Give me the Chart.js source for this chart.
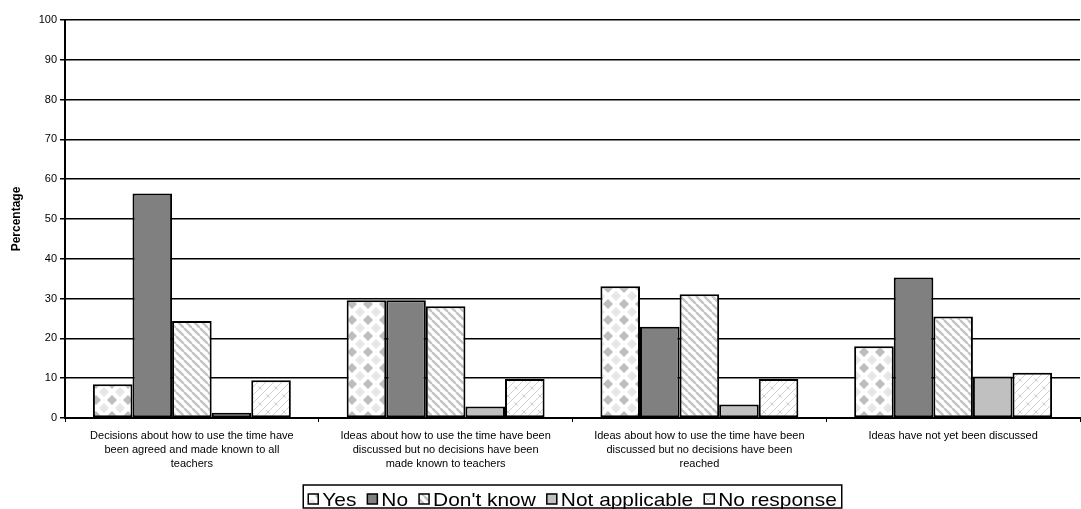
<!DOCTYPE html>
<html>
<head>
<meta charset="utf-8">
<script src="https://cdn.jsdelivr.net/npm/chart.js@4.4.1/dist/chart.umd.min.js"></script>
<style>
  html, body { margin: 0; padding: 0; background: #fff; }
  #wrap { width: 1081px; height: 509px; }
</style>
</head>
<body>
<div id="wrap"><canvas id="chart"></canvas></div>
<script>
const categories = [
  ['Decisions about how to use the time have', 'been agreed and made known to all', 'teachers'],
  ['Ideas about how to use the time have been', 'discussed but no decisions have been', 'made known to teachers'],
  ['Ideas about how to use the time have been', 'discussed but no decisions have been', 'reached'],
  ['Ideas have not yet been discussed']
];
const seriesNames = ['Yes', 'No', "Don't know", 'Not applicable', 'No response'];
const yesValues = [8.5, 29.6, 33.1, 18.0];
const noValues = [56.4, 29.6, 22.9, 35.3];
const dontKnowValues = [24.4, 28.1, 31.1, 25.5];
const notApplicableValues = [1.3, 2.9, 3.4, 10.4];
const noResponseValues = [9.5, 9.8, 9.8, 11.4];
const yTicks = [0, 10, 20, 30, 40, 50, 60, 70, 80, 90, 100];

const FONT = "'Liberation Sans', Arial, sans-serif";
const canvas = document.getElementById('chart');
const ctx = canvas.getContext('2d');

// small tiles for the hatched fills
function tile(size, draw) {
  const c = document.createElement('canvas');
  c.width = c.height = size;
  const g = c.getContext('2d');
  g.fillStyle = '#fff';
  g.fillRect(0, 0, size, size);
  draw(g, size);
  return ctx.createPattern(c, 'repeat');
}

function diamond(g, x, y, r) {
  g.beginPath();
  g.moveTo(x, y - r); g.lineTo(x + r, y); g.lineTo(x, y + r); g.lineTo(x - r, y);
  g.closePath(); g.fill();
}

const yesFill = tile(16, (g, s) => {
  g.fillStyle = '#e6e6e6';
  diamond(g, 8, 8, 5);
  g.fillStyle = '#bdbdbd';
  [[0, 0], [s, 0], [0, s], [s, s]].forEach(([x, y]) => diamond(g, x, y, 5));
});

const stripeFill = tile(8, (g, s) => {
  g.strokeStyle = '#c4c4c4';
  g.lineWidth = 2.4;
  [-s, 0, s].forEach(o => {
    g.beginPath(); g.moveTo(o, 0); g.lineTo(o + s, s); g.stroke();
  });
});

const brickFill = tile(16, (g, s) => {
  g.strokeStyle = '#cfcfcf';
  g.lineWidth = 1;
  [[0, 8, 8, 0], [0, 16, 16, 0], [8, 16, 16, 8]].forEach(([a, b, c, d]) => {
    g.beginPath(); g.moveTo(a, b); g.lineTo(c, d); g.stroke();
  });
  [[2, 2, 6, 6], [10, 10, 14, 14]].forEach(([a, b, c, d]) => {
    g.beginPath(); g.moveTo(a, b); g.lineTo(c, d); g.stroke();
  });
});

const fills = [yesFill, '#808080', stripeFill, '#c0c0c0', brickFill];
const values = [yesValues, noValues, dontKnowValues, notApplicableValues, noResponseValues];

// framed legend under the axis labels, centred on the plot area
const boxedLegend = {
  id: 'boxedLegend',
  afterDraw(chart) {
    const g = chart.ctx;
    const fontSize = 19, stretch = 1.1, box = 10, gap = 4, spacing = 11, pad = 5;
    g.save();
    g.font = fontSize + 'px ' + FONT;
    const items = chart.data.datasets.map(ds => ({
      text: ds.label, fill: ds.backgroundColor,
      tw: g.measureText(ds.label).width * stretch
    }));
    const inner = items.reduce((s, it) => s + box + gap + it.tw, 0) + spacing * (items.length - 1);
    const area = chart.chartArea;
    const left = (area.left + area.right) / 2 - inner / 2 - pad;
    const top = 485, height = 23;
    g.strokeStyle = '#000';
    g.lineWidth = 1.5;
    g.strokeRect(left, top, inner + pad * 2, height);
    let x = left + pad;
    const baseline = 506;
    items.forEach(it => {
      g.fillStyle = it.fill;
      g.fillRect(x, baseline - 12, box, box);
      g.lineWidth = 1.5;
      g.strokeStyle = '#000';
      g.strokeRect(x, baseline - 12, box, box);
      g.save();
      g.translate(x + box + gap, baseline);
      g.scale(stretch, 1);
      g.fillStyle = '#000';
      g.fillText(it.text, 0, 0);
      g.restore();
      x += box + gap + it.tw + spacing;
    });
    g.restore();
  }
};

new Chart(canvas, {
  type: 'bar',
  data: {
    labels: categories,
    datasets: seriesNames.map((name, i) => ({
      label: name,
      data: values[i],
      backgroundColor: fills[i],
      borderColor: '#000',
      borderWidth: 2,
      borderSkipped: false,
      categoryPercentage: 0.78,
      barPercentage: 1.0
    }))
  },
  options: {
    responsive: true,
    maintainAspectRatio: false,
    animation: false,
    layout: { padding: { top: 20, right: 1, left: 0, bottom: 32 } },
    plugins: {
      tooltip: { enabled: false },
      legend: { display: false }
    },
    scales: {
      x: {
        grid: { display: true, drawOnChartArea: false, drawTicks: true, tickLength: 4, color: '#000', offset: true },
        border: { color: '#000', width: 2 },
        ticks: {
          color: '#000',
          font: { family: FONT, size: 11, lineHeight: 1.27 },
          maxRotation: 0,
          autoSkip: false,
          padding: 7
        },
        afterFit(scale) { scale.height = 59; }
      },
      y: {
        min: 0,
        max: 100,
        afterBuildTicks(scale) { scale.ticks = yTicks.map(v => ({ value: v })); },
        grid: { color: '#000', lineWidth: 1.5, tickLength: 5 },
        border: { color: '#000', width: 2 },
        ticks: { color: '#000', font: { family: FONT, size: 11 }, padding: 3 },
        title: {
          display: true,
          text: 'Percentage',
          color: '#000',
          font: { family: FONT, size: 12, weight: 'bold' },
          padding: { top: 9, bottom: 0 }
        },
        afterFit(scale) { scale.width = 65; }
      }
    }
  },
  plugins: [boxedLegend]
});
</script>
</body>
</html>
